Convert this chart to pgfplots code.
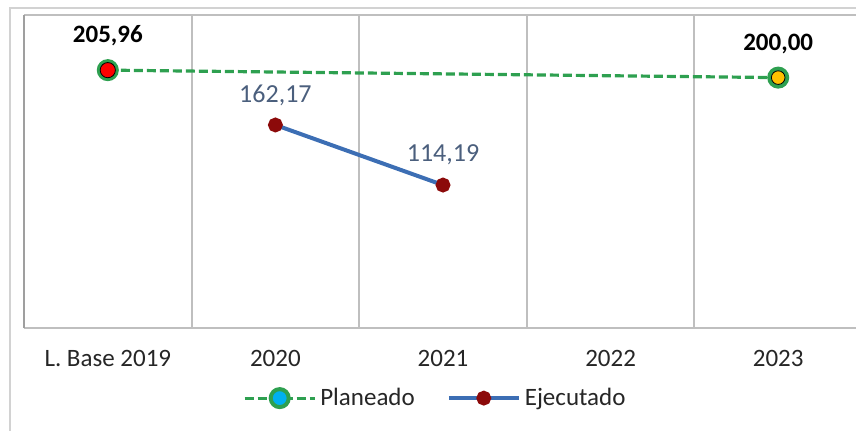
\documentclass[border=0pt]{standalone}
\usepackage{fontspec}
\setmainfont{Carlito}
\usepackage{pgfplots}
\pgfplotsset{compat=1.18}

\definecolor{plangreen}{RGB}{46,160,80}
\definecolor{ejecblue}{RGB}{60,110,180}
\definecolor{ejecmark}{RGB}{140,10,10}
\definecolor{lblblue}{RGB}{75,95,125}
\definecolor{planyellow}{RGB}{255,192,0}
\definecolor{plancyan}{RGB}{0,176,240}

\begin{document}
\begin{tikzpicture}
\useasboundingbox (0,0) rectangle (428pt,215pt);
\clip (0,0) rectangle (428pt,215pt);
% outer chart frame
\draw[gray!35, line width=1pt] (5pt,-10pt) rectangle (440pt,211pt);
\begin{axis}[
    at={(12pt,51pt)}, anchor=south west,
    scale only axis, width=419pt, height=156.5pt,
    xmin=-0.5, xmax=4.5, ymin=0, ymax=250,
    xtick={0,...,4},
    xticklabels={L. Base 2019,2020,2021,2022,2023},
    ytick=\empty,
    minor xtick={0.5,1.5,2.5,3.5},
    xminorgrids,
    minor grid style={draw=gray!50, line width=1pt},
    tick style={draw=none},
    separate axis lines,
    axis line style={draw=gray!50, line width=1pt},
    y axis line style={draw=gray!75, line width=1.2pt},
    font=\fontsize{12.5}{15}\selectfont,
    xticklabel style={anchor=center, yshift=-15pt, text=black!85},
    clip=false,
    legend columns=2,
    legend style={draw=none, fill=none, at={(0.492,-0.224)}, anchor=center,
        font=\fontsize{12.5}{15}\selectfont, text=black!85,
        /tikz/every even column/.append style={column sep=14pt}},
    legend image code/.code={\draw[mark repeat=2,mark phase=2,#1]
        plot coordinates {(0pt,0pt) (17.5pt,0pt) (35pt,0pt)};},
]

% Planeado
\addplot[plangreen, line width=1.6pt, dash pattern=on 4.5pt off 2pt,
    mark=*, mark size=4.5pt,
    mark options={solid, fill=plancyan, draw=plangreen, line width=2pt},
    point meta=explicit symbolic,
    nodes near coords,
    nodes near coords style={anchor=center, yshift=17pt, font=\fontsize{12.5}{15}\selectfont\bfseries, text=black}]
    coordinates {(0,205.96) [205,96] (4,200) [200,00]};
\addlegendentry{Planeado}

% Ejecutado
\addplot[ejecblue, line width=2pt,
    mark=*, mark size=2.7pt,
    mark options={fill=ejecmark, draw=ejecmark},
    point meta=explicit symbolic,
    nodes near coords,
    nodes near coords style={anchor=center, yshift=15pt, text=lblblue, font=\fontsize{13}{15}\selectfont}]
    coordinates {(1,162.17) [162,17] (2,114.19) [114,19]};
\addlegendentry{Ejecutado}

% coloured centres of the Planeado points
\addplot[forget plot, only marks, mark=*, mark size=3.8pt,
    mark options={fill=red, draw=none}]
    coordinates {(0,205.96)};
\addplot[forget plot, only marks, mark=*, mark size=3.4pt,
    mark options={fill=planyellow, draw=none}]
    coordinates {(4,200)};
\end{axis}
\end{tikzpicture}
\end{document}
